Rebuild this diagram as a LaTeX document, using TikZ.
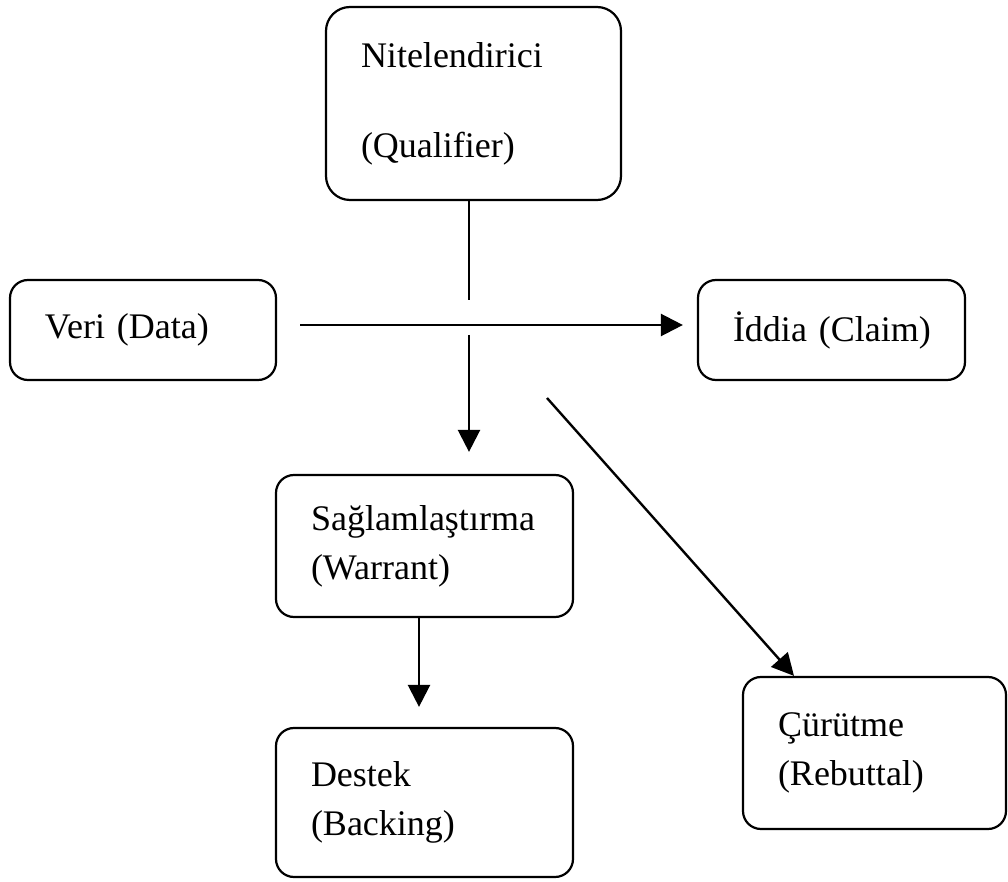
\documentclass[tikz,border=0pt]{standalone}
\usepackage{fontspec}
\setmainfont{Liberation Serif}
\usetikzlibrary{arrows.meta}
\begin{document}
\begin{tikzpicture}[x=0.5pt,y=-0.5pt,
  box/.style={draw,line width=1.1pt,rounded corners=9pt,inner xsep=17.5pt,inner ysep=0pt,
    align=left,font=\fontsize{18}{24.5}\selectfont},
  conn/.style={line width=1.2pt},
  arr/.style={line width=1.2pt,-{Triangle[length=11pt,width=11pt]}}]
\useasboundingbox (0,0) rectangle (1008,882);

\node[box,rounded corners=12pt,text width=112.5pt,minimum height=96.5pt] (qual) at (473.5,103.5)
  {Nitelendirici\\[20.5pt](Qualifier)};
\node[box,text width=98pt,minimum height=50pt] (data) at (143,330) {Veri (Data)};
\node[box,text width=98.5pt,minimum height=50pt] (claim) at (831.5,330) {\mbox{İddia (Claim)}};
\node[box,text width=113.5pt,minimum height=71pt] (warrant) at (424.5,546) {Sağlamlaştırma\\(Warrant)};
\node[box,text width=113.5pt,minimum height=74.5pt] (backing) at (424.5,802.5) {Destek\\(Backing)};
\node[box,text width=96.5pt,minimum height=76pt] (rebut) at (874.5,753) {Çürütme\\(Rebuttal)};

\coordinate (q1) at (469,300);
\coordinate (h0) at (300,325);
\coordinate (v0) at (469,335);
\coordinate (d0) at (547,398);
\coordinate (d1) at (794,0);
\coordinate (w0) at (419,0);

\draw[conn] (qual.south -| q1) -- (q1);
\draw[arr,shorten >=7pt] (h0) -- (h0 -| claim.west);
\draw[arr,shorten >=11pt] (v0) -- (v0 |- warrant.north);
\draw[arr] (d0) -- (rebut.north -| d1);
\draw[arr,shorten >=10pt] (warrant.south -| w0) -- (backing.north -| w0);
\end{tikzpicture}
\end{document}
